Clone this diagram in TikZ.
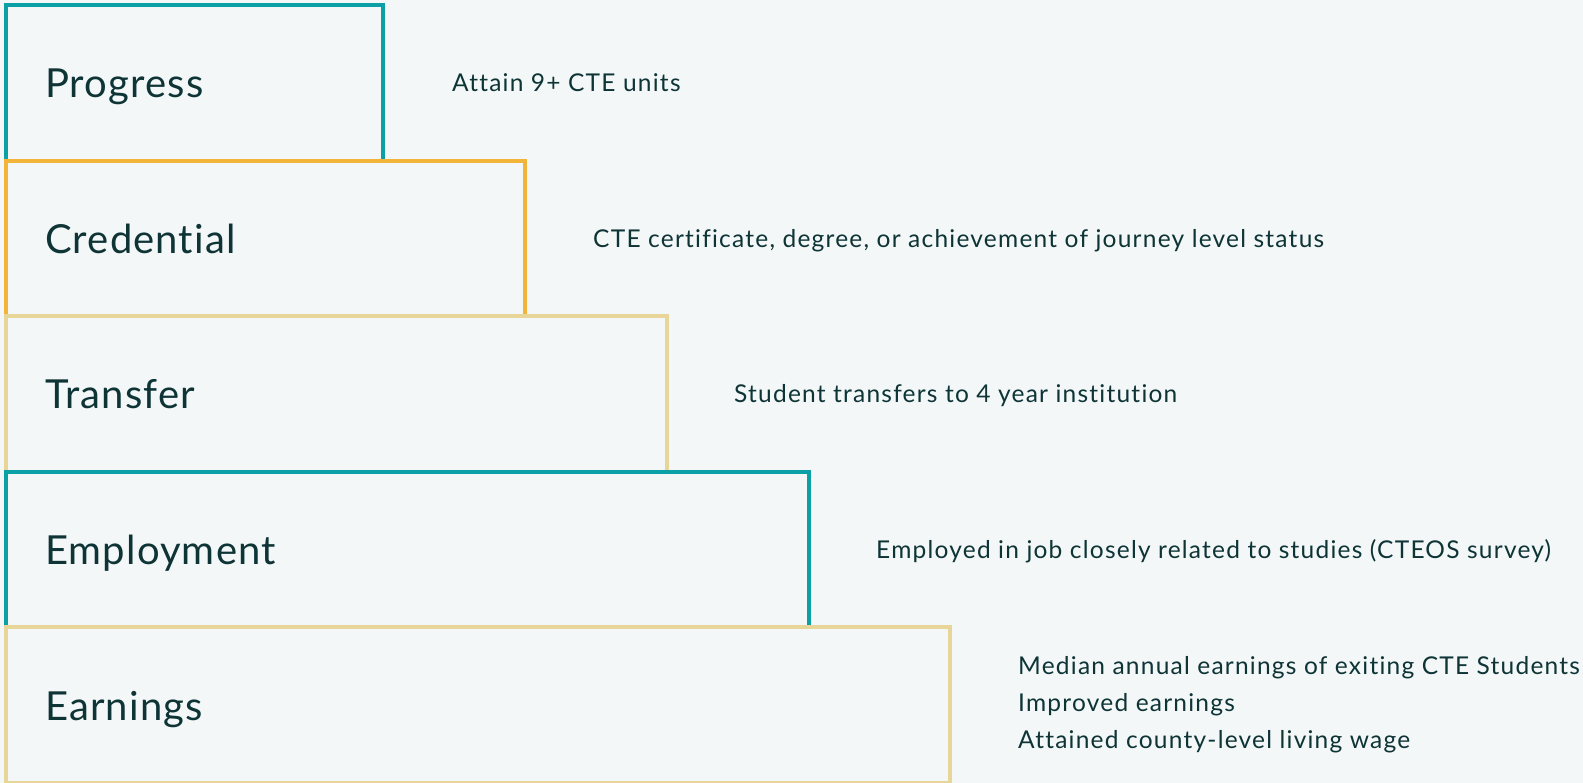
\documentclass[tikz,border=0pt]{standalone}
\usepackage{fontspec}
\setmainfont{Lato}
\newfontfamily\lblfont[LetterSpace=2.8,Ligatures=NoCommon]{Lato}
\newfontfamily\descfont[LetterSpace=5.0,Ligatures=NoCommon]{Lato}
\definecolor{bgc}{HTML}{F3F7F8}
\definecolor{tealc}{HTML}{0AA0A6}
\definecolor{orangec}{HTML}{F2B53A}
\definecolor{beigec}{HTML}{E8D598}
\definecolor{txt}{HTML}{0E3436}
\tikzset{
  stage/.style={draw=#1, line width=4pt, inner sep=0pt, anchor=north west},
  lbl/.style={anchor=base west, inner sep=0pt, text=txt, font=\lblfont\fontsize{40pt}{48pt}\selectfont},
  desc/.style={anchor=base west, inner sep=0pt, text=txt, font=\descfont\fontsize{24.5pt}{37pt}\selectfont, align=left},
}
\begin{document}
\begin{tikzpicture}[x=1pt,y=-1pt]
\fill[bgc] (0,0) rectangle (1583,783);
\useasboundingbox (0,0) rectangle (1583,783);
% boxes
\node[stage=tealc,   minimum width=377pt, minimum height=155.6pt] (b1) at (4,3) {};
\node[stage=orangec, minimum width=519pt, minimum height=155.6pt] (b2) at (4,158.6) {};
\node[stage=beigec,  minimum width=661pt, minimum height=155.6pt] (b3) at (4,314.2) {};
\node[stage=tealc,   minimum width=803pt, minimum height=155.6pt] (b4) at (4,469.8) {};
\node[stage=beigec,  minimum width=944pt, minimum height=155.6pt] (b5) at (4,625.4) {};
% labels
\node[lbl] (l1) at ([shift={(41,15)}]b1.west) {Progress};
\node[lbl] (l2) at ([shift={(41,15)}]b2.west) {Credential};
\node[lbl] (l3) at ([shift={(41,15)}]b3.west) {Transfer};
\node[lbl] (l4) at ([shift={(41,15)}]b4.west) {Employment};
\node[lbl] (l5) at ([shift={(41,15)}]b5.west) {Earnings};
% descriptions
\node[desc] (d1) at ([shift={(67,8.8)}]b1.east) {Attain 9+ CTE units};
\node[desc] (d2) at ([shift={(66,8.8)}]b2.east) {CTE certificate, degree, or achievement of journey level status};
\node[desc] (d3) at ([shift={(65,8.8)}]b3.east) {Student transfers to 4 year institution};
\node[desc] (d4) at ([shift={(65,8.8)}]b4.east) {Employed in job closely related to studies (CTEOS survey)};
\node[desc, anchor=west] (d5) at ([shift={(66,0)}]b5.east) {Median annual earnings of exiting CTE Students\\Improved earnings\\Attained county-level living wage};
\end{tikzpicture}
\end{document}
